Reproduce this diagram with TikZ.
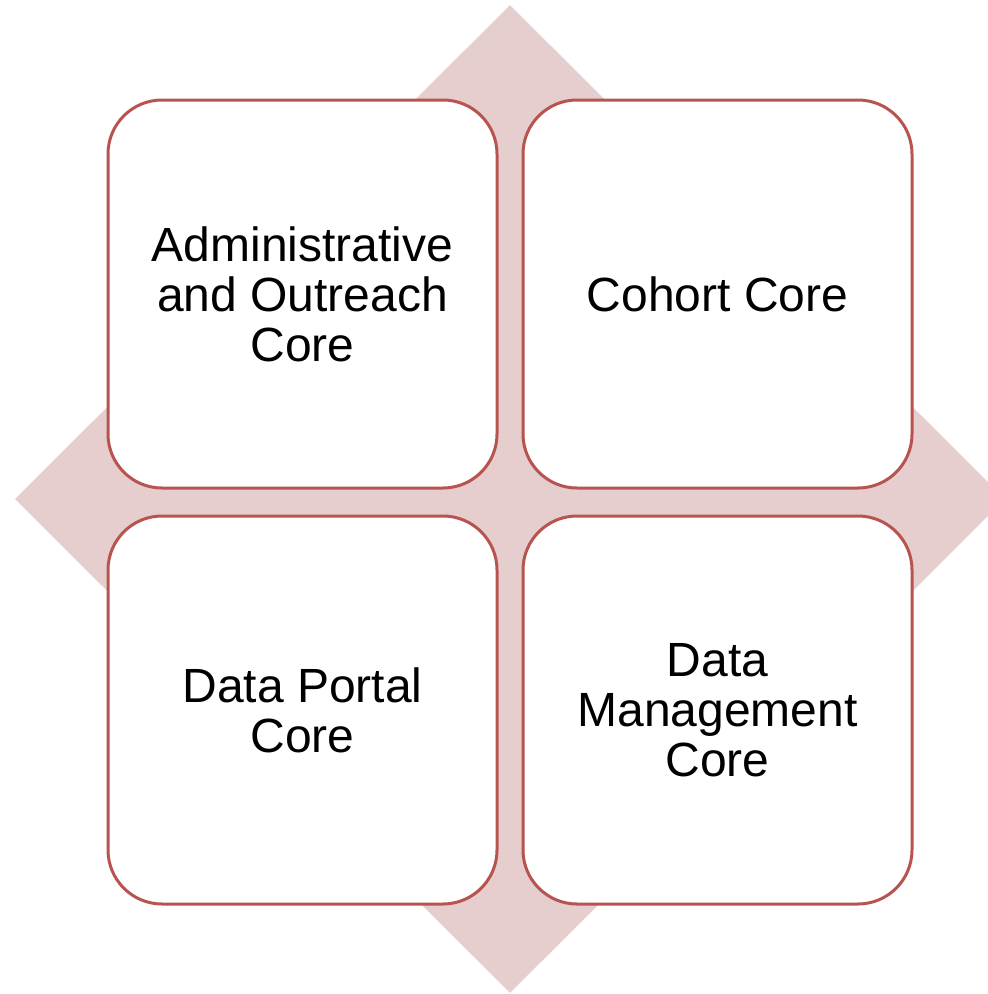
\documentclass[tikz,border=0pt]{standalone}
\usepackage{fontspec}
\setmainfont{Liberation Sans}
\usetikzlibrary{shapes.geometric}
\definecolor{rimred}{HTML}{B85450}
\definecolor{diafill}{HTML}{E6CDCE}
\tikzset{
  corebox/.style={rectangle, rounded corners=54pt, draw=rimred, line width=3pt, fill=white,
    minimum width=389pt, minimum height=388pt, inner sep=0pt, align=center,
    font=\fontsize{48pt}{50pt}\selectfont},
  backdia/.style={diamond, fill=diafill, draw=none, minimum width=990pt, minimum height=988pt, inner sep=0pt}
}
\begin{document}
\begin{tikzpicture}[x=1pt,y=-1pt]
\useasboundingbox (0,0) rectangle (988,994);
\clip (0,0) rectangle (988,994);
\node[backdia] (bg) at (510,499) {};
\node[corebox] (adm) at (302.5,294) {Administrative\\and Outreach\\Core};
\node[corebox] (coh) at (717.5,294) {Cohort Core};
\node[corebox] (por) at (302.5,710) {Data Portal\\Core};
\node[corebox] (man) at (717.5,710) {Data\\Management\\Core};
\end{tikzpicture}
\end{document}
